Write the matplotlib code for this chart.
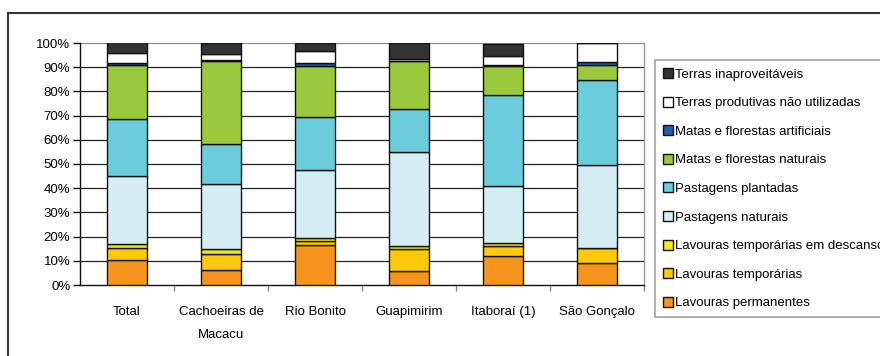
import matplotlib
matplotlib.use("Agg")
import matplotlib.pyplot as plt
import numpy as np
from matplotlib.lines import Line2D
from matplotlib.patches import Patch

plt.rcParams['font.family'] = ['Liberation Sans', 'DejaVu Sans']

categories = ["Total", "Cachoeiras de\nMacacu", "Rio Bonito", "Guapimirim", "Itaboraí (1)", "São Gonçalo"]

series_names = [
    "Lavouras permanentes",
    "Lavouras temporárias",
    "Lavouras temporárias em descanso",
    "Pastagens naturais",
    "Pastagens plantadas",
    "Matas e florestas naturais",
    "Matas e florestas artificiais",
    "Terras produtivas não utilizadas",
    "Terras inaproveitáveis",
]

lav_perm = [10.3, 6.3, 16.6, 5.9, 12.0, 9.0]
lav_temp = [5.1, 6.7, 1.4, 8.9, 4.1, 6.4]
lav_desc = [1.4, 1.9, 1.4, 1.3, 1.4, 0.0]
past_nat = [28.4, 27.0, 28.0, 38.8, 23.6, 34.3]
past_plant = [23.2, 16.2, 22.0, 17.9, 37.5, 34.9]
matas_nat = [22.5, 34.6, 21.3, 19.6, 11.7, 6.4]
matas_art = [0.7, 0.4, 0.9, 0.3, 0.7, 1.1]
terras_prod = [4.2, 2.3, 5.3, 0.7, 3.6, 7.9]
terras_inap = [4.6, 4.6, 3.2, 6.6, 5.1, 0.0]

values = [lav_perm, lav_temp, lav_desc, past_nat, past_plant, matas_nat, matas_art, terras_prod, terras_inap]
colors = ["#F7941D", "#FDC90A", "#F2E81C", "#D4ECF3", "#6BCDDB", "#9ACA3C", "#1F5FA8", "#FFFFFF", "#333333"]

fig = plt.figure(figsize=(8.8, 3.56), dpi=100)
W, H = 880, 356
ax = fig.add_axes([80 / W, 1 - 285 / H, 564 / W, 242 / H])

x = np.arange(len(categories))
bottom = np.zeros(len(categories))
for vals, col, name in zip(values, colors, series_names):
    v = np.array(vals, dtype=float)
    ax.bar(x, v, bottom=bottom, width=0.42, color=col, edgecolor="#111111", linewidth=1.0, zorder=3, label=name)
    bottom += v

ax.set_xlim(-0.5, len(categories) - 0.5)
ax.set_ylim(0, 100)
ax.set_yticks(np.arange(0, 101, 10))
ax.set_yticklabels([f"{t}%" for t in range(0, 101, 10)], fontsize=9.5)
for t in range(10, 101, 10):
    ax.axhline(t, color="#222222" if t < 100 else "#888888", lw=0.9, zorder=1)

ax.set_xticks(x)
ax.set_xticklabels(categories, fontsize=9.5, linespacing=2.2)
ax.tick_params(axis='x', length=0, pad=15)
ax.set_xticks(np.arange(0.5, len(categories) - 0.5 + 0.01, 1.0), minor=True)
ax.tick_params(axis='x', which='minor', length=4, color="#888888", width=1)
ax.tick_params(axis='y', length=5, color="#111111", width=1, pad=2)

ax.spines['top'].set_visible(False)
ax.spines['right'].set_color("#999999")
ax.spines['left'].set_color("#111111")
ax.spines['bottom'].set_color("#111111")
for s in ax.spines.values():
    s.set_linewidth(1.0)

handles = [Patch(facecolor=c, edgecolor="#111111", linewidth=1.0) for c in colors]
leg = fig.legend(handles[::-1], series_names[::-1], loc="upper left",
                 bbox_to_anchor=(655 / W, 1 - 60 / H), frameon=True, fancybox=False,
                 edgecolor="#888888", fontsize=9.5, handlelength=0.8, handleheight=0.8,
                 handletextpad=0.15, labelspacing=1.21, borderpad=0.6, borderaxespad=0)
leg.get_frame().set_linewidth(1.2)

fig.add_artist(Line2D([8 / W, 1.0], [1 - 13 / H, 1 - 13 / H], transform=fig.transFigure, color="#333333", lw=1.5))
fig.add_artist(Line2D([8 / W, 8 / W], [0, 1 - 13 / H], transform=fig.transFigure, color="#333333", lw=1.5))

fig.savefig("out.png", dpi=100)
